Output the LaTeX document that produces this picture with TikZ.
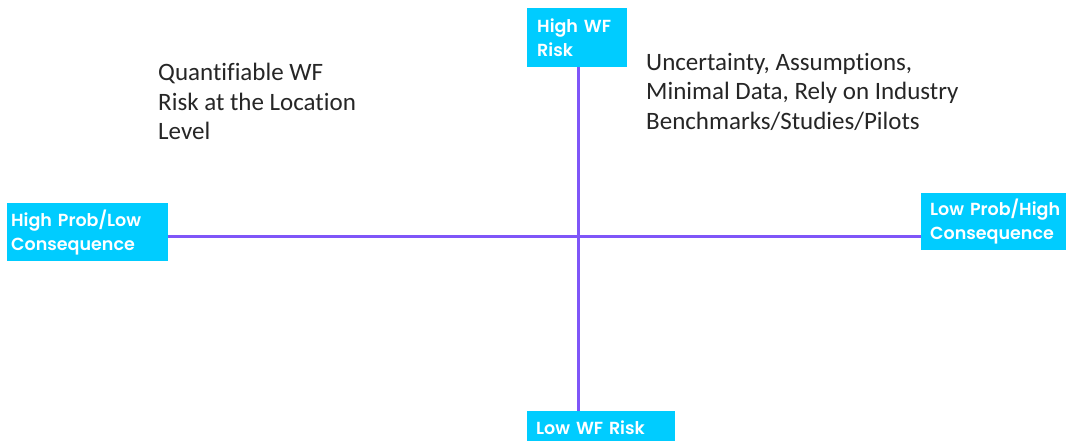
\documentclass[tikz,border=0pt]{standalone}
\usepackage{fontspec}
\setmainfont[Ligatures=NoCommon]{Carlito}
\newfontfamily\poppins[BoldFont={Poppins SemiBold}]{Poppins}
\definecolor{boxc}{HTML}{00CCFF}
\definecolor{axisc}{HTML}{7F56F8}
\begin{document}
\begin{tikzpicture}[x=1pt,y=1pt,
  lbl/.style={fill=boxc,text=white,font=\poppins\bfseries\fontsize{17.5}{24}\selectfont,
    align=left,anchor=north west,inner ysep=0pt},
  body/.style={font=\fontsize{25}{29.5}\selectfont,align=left,anchor=north west,inner sep=0pt,text=black!85},
  axis/.style={draw=axisc,line width=3pt}]
\useasboundingbox[fill=white] (0,0) rectangle (1066,-440);
\node[lbl,inner xsep=10pt,text width=80pt,minimum height=59pt] (hwf) at (527,-8) {High WF\\Risk};
\node[lbl,inner xsep=4pt,text width=153pt,minimum height=58pt] (hpl) at (7,-203) {High Prob/Low\\Consequence};
\node[lbl,inner xsep=9pt,text width=140pt,minimum height=57pt] (lph) at (921,-193) {Low Prob/High\\Consequence};
\node[lbl,inner xsep=9pt,text width=130pt,minimum height=36pt] (lwf) at (527,-411) {\raisebox{3pt}{Low WF Risk}\\[-6pt]};
\coordinate (c) at (578,-236);
\draw[axis] (hwf.south -| c) -- (lwf.north -| c);
\draw[axis] (hpl.east |- c) -- (lph.west |- c);
\node[body] (q) at (158,-63) {Quantifiable WF\\Risk at the Location\\Level};
\node[body] (u) at (646,-53) {Uncertainty, Assumptions,\\Minimal Data, Rely on Industry\\Benchmarks/Studies/Pilots};
\end{tikzpicture}
\end{document}
